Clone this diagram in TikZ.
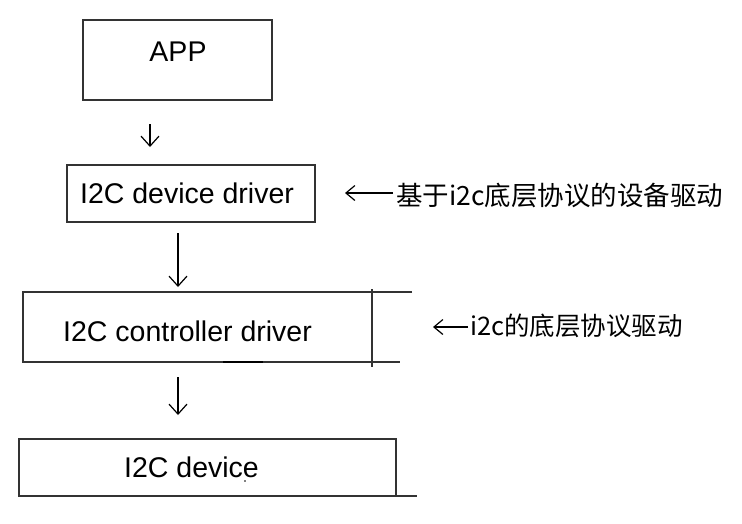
\documentclass[tikz,border=0pt]{standalone}
\usepackage{fontspec}
\setmainfont{Liberation Sans}
\newfontfamily\cjk{Noto Sans CJK SC}
\usetikzlibrary{arrows.meta}
\begin{document}
\begin{tikzpicture}[x=1pt,y=-1pt,
  boxline/.style={draw=black!80, line width=1.5pt, inner sep=0pt},
  rule/.style={draw=black!80, line width=1.5pt},
  lbl/.style={font=\fontsize{28.5}{34}\selectfont, inner sep=0pt, anchor=center},
  note/.style={font=\cjk\fontsize{26.5}{30}\selectfont, inner sep=0pt, anchor=west},
  downarr/.style={-{Straight Barb[length=10pt,width=18pt,line width=1.2pt]}, line width=1.2pt},
  leftarr/.style={-{Straight Barb[length=9pt,width=15pt,line width=1.2pt]}, line width=1.2pt}]
\useasboundingbox (0,0) rectangle (742,523);
% APP
\node[boxline, minimum width=189pt, minimum height=80pt] (app) at (177.5,60) {};
\node[lbl] (appt) at (178,52) {APP};
% I2C device driver
\node[boxline, minimum width=248pt, minimum height=57pt] (dd) at (191,193.5) {};
\node[lbl] (ddt) at (187,193) {I2C device driver};
% I2C controller driver
\coordinate (ctl) at (23,292);
\coordinate (ctr) at (412,292);
\coordinate (cbl) at (23,362);
\coordinate (cbr) at (400,362);
\coordinate (cvt) at (372,289);
\coordinate (cvb) at (372,367);
\coordinate (cta) at (223,362);
\coordinate (ctb) at (263,362);
\draw[rule] (ctr) -- (ctl) -- (cbl) -- (cbr);
\draw[rule] (cvt) -- (cvb);
\draw[line width=2.4pt] (cta) -- (ctb);
\node[lbl] (cdt) at (187.5,331) {I2C controller driver};
% I2C device
\coordinate (dtl) at (19,439);
\coordinate (dbr) at (396,496);
\coordinate (dext) at (417,496);
\draw[rule] (dtl) rectangle (dbr);
\draw[rule] (dbr) -- (dext);
\node[lbl] (devt) at (191.5,467) {I2C device};
\fill (245,481) circle (0.9pt);
% down arrows
\coordinate (a1s) at (150,124);
\coordinate (a1e) at (150,147);
\coordinate (a2s) at (178,233);
\coordinate (a2e) at (178,287);
\coordinate (a3s) at (178,377);
\coordinate (a3e) at (178,415);
\draw[downarr] (a1s) -- (a1e);
\draw[downarr] (a2s) -- (a2e);
\draw[downarr] (a3s) -- (a3e);
% annotations
\node[note] (n1) at (396,195) {基于i2c底层协议的设备驱动};
\coordinate (n1a) at (345,193);
\draw[leftarr] (n1.west) ++(-3,-2) coordinate (n1s) -- (n1a);
\node[note, font=\cjk\fontsize{25.5}{29}\selectfont] (n2) at (470,326) {i2c的底层协议驱动};
\coordinate (n2a) at (433,327);
\draw[leftarr] (n2.west) ++(-2,1) coordinate (n2s) -- (n2a);
\end{tikzpicture}
\end{document}
